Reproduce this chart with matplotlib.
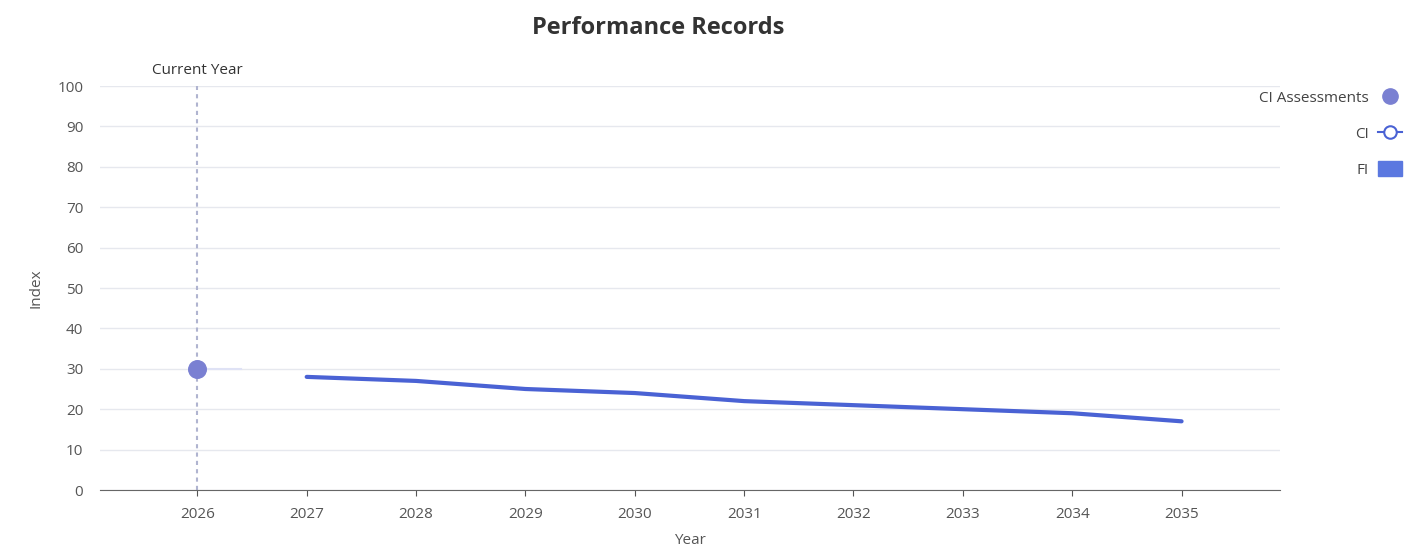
import matplotlib.pyplot as plt
from matplotlib.lines import Line2D
from matplotlib.patches import Patch

years = [2026, 2027, 2028, 2029, 2030, 2031, 2032, 2033, 2034, 2035]
fi_years = [2027, 2028, 2029, 2030, 2031, 2032, 2033, 2034, 2035]
fi_values = [28, 27, 25, 24, 22, 21, 20, 19, 17]
ci_assess_years = [2026]
ci_assess_values = [30]
current_year = 2026

plt.rcParams['font.family'] = ['Open Sans', 'DejaVu Sans']

fig = plt.figure(figsize=(14.16, 5.55), dpi=100)
ax = fig.add_axes([100 / 1416, 1 - 490 / 555, 1180 / 1416, 404 / 555])

ax.plot(fi_years, fi_values, color='#4a62d4', lw=3, solid_capstyle='round', zorder=3)
ax.scatter(ci_assess_years, ci_assess_values, s=160, color='#7a80d2', zorder=4)
ax.plot([current_year + 0.1, current_year + 0.4], [30, 30], color='#dfe2f5', lw=1.5, zorder=2)

ax.axvline(current_year, color='#b0b4d0', lw=1.5, ls=(0, (2, 2)), zorder=2)
ax.text(current_year, 102, 'Current Year', ha='center', va='bottom', fontsize=11, color='#333333')

ax.set_xlim(2025.11, 2035.9)
ax.set_ylim(0, 100)
ax.set_xticks(years)
ax.set_yticks(range(0, 101, 10))
ax.tick_params(axis='x', colors='#555555', labelsize=11, length=4, pad=8)
ax.tick_params(axis='y', colors='#555555', labelsize=11, length=0, pad=12)
ax.grid(axis='y', color='#e6e8ee', lw=1)
ax.set_axisbelow(True)
for s in ['top', 'right', 'left']:
    ax.spines[s].set_visible(False)
ax.spines['bottom'].set_color('#666666')
ax.set_xlabel('Year', fontsize=11, color='#555555', labelpad=8)
ax.set_ylabel('Index', fontsize=11, color='#555555', labelpad=10)

fig.text(658 / 1416, 1 - 28 / 555, 'Performance Records', ha='center', va='center',
         fontsize=17, fontweight='bold', color='#333333')

handles = [
    Line2D([], [], ls='none', marker='o', ms=11, color='#7a80d2'),
    Line2D([], [], color='#4a62d4', lw=1.5, marker='o', ms=9, mfc='white', mew=1.5),
    Patch(color='#5b78e0'),
]
leg = fig.legend(handles, ['CI Assessments', 'CI', 'FI'], loc='upper right',
                 bbox_to_anchor=(1.0, 1 - 76 / 555), frameon=False, markerfirst=False,
                 fontsize=11, handlelength=1.6, handleheight=1.1, labelspacing=1.25,
                 handletextpad=0.6)
for t in leg.get_texts():
    t.set_color('#444444')

fig.savefig('out.png', dpi=100)
